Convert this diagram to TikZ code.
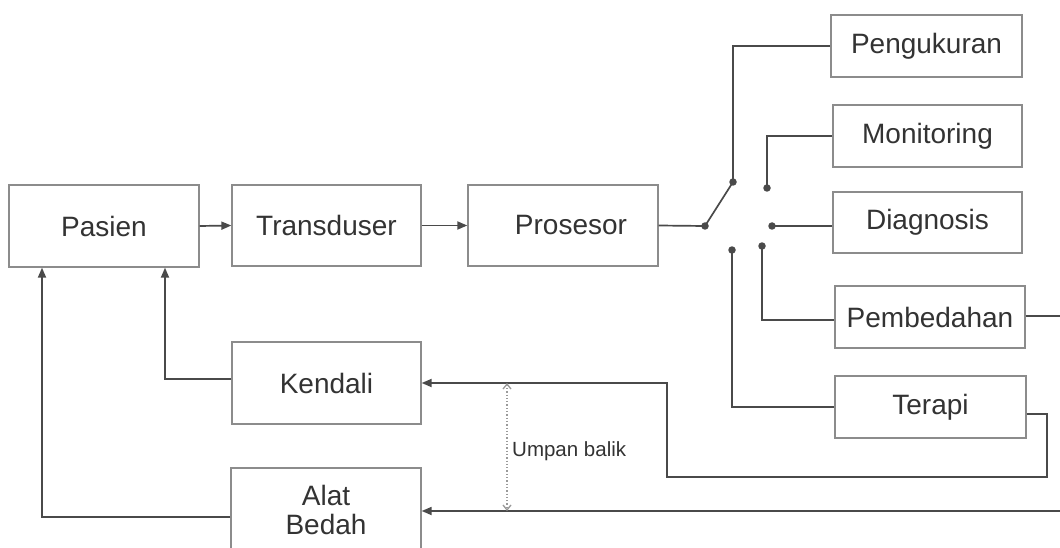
\documentclass[tikz,border=0pt]{standalone}
\usepackage{fontspec}
\setmainfont{Liberation Sans}
\usetikzlibrary{arrows.meta}
\definecolor{boxc}{HTML}{8C8C8C}
\definecolor{linec}{HTML}{4A4A4A}
\definecolor{txtc}{HTML}{333333}
\definecolor{dotc}{HTML}{9A9A9A}
\begin{document}
\begin{tikzpicture}[x=1pt,y=-1pt,
  blk/.style={draw=boxc,line width=1.3pt,inner sep=0pt,text=txtc,align=center,
    font=\fontsize{28}{29}\selectfont},
  conn/.style={draw=linec,line width=1.7pt},
  arr/.style={conn,-{Triangle[length=10pt,width=8pt]}},
  sw/.style={circle,fill=linec,inner sep=0pt,minimum size=7.5pt},
  fb/.style={draw=dotc,line width=1.3pt,dotted,{Straight Barb[length=5pt,width=8pt]}-{Straight Barb[length=5pt,width=8pt]}}]
\useasboundingbox[fill=white] (0,0) rectangle (1060,548);
% blocks
\node[blk,minimum width=190pt,minimum height=82pt] (pasien) at (104,226) {Pasien};
\node[blk,minimum width=189pt,minimum height=81pt] (trans) at (326.5,225.5) {Transduser};
\node[blk,minimum width=190pt,minimum height=81pt] (pros) at (563,225.5) {\hspace*{16pt}Prosesor};
\node[blk,minimum width=191pt,minimum height=62pt] (peng) at (926.5,46) {Pengukuran};
\node[blk,minimum width=189pt,minimum height=62pt] (mon) at (927.5,136) {Monitoring};
\node[blk,minimum width=189pt,minimum height=61pt] (diag) at (927.5,222.5) {Diagnosis};
\node[blk,minimum width=190pt,minimum height=62pt] (pemb) at (930,317) {Pembedahan};
\node[blk,minimum width=191pt,minimum height=62pt] (ter) at (930.5,407) {Terapi};
\node[blk,minimum width=189pt,minimum height=82pt] (kend) at (326.5,383) {Kendali};
\node[blk,minimum width=190pt,minimum height=84pt] (alat) at (326,510) {Alat\\Bedah};
% switch contacts
\node[sw] (s0) at (705,226) {};
\node[sw] (s1) at (733,182) {};
\node[sw] (sm) at (767,188) {};
\node[sw] (sd) at (772,226) {};
\node[sw] (sp) at (762,246) {};
\node[sw] (st) at (732,250) {};
\coordinate (e1) at (1062,316);
\coordinate (e2) at (1062,511);
\coordinate (tr) at (1047,414);
\coordinate (bl) at (667,477);
\coordinate (ub1) at (507,383);
\coordinate (ub2) at (507,511);
% forward path
\draw[arr] (pasien.east) -- (trans.west);
\draw[arr] (trans.east) -- (pros.west);
\draw[conn] (pros.east) -- (s0.center);
\draw[conn] (s0.center) -- (s1.center);
\draw[conn] (s1.center) |- (peng.west);
\draw[conn] (sm.center) |- (mon.west);
\draw[conn] (sd.center) -- (sd.center -| diag.west);
\draw[conn] (sp.center) |- ([yshift=-3pt]pemb.west);
\draw[conn] (st.center) |- (ter.west);
% outputs
\draw[conn] ([yshift=1pt]pemb.east) -- (e1);
\draw[arr] ([yshift=-7pt]ter.east) -| (tr) |- (bl) |- (kend.east);
\draw[arr] (e2) -- (e2 -| alat.east);
% feedback to patient
\draw[arr] ([yshift=4pt]kend.west) -| ([xshift=61pt]pasien.south);
\draw[arr] ([yshift=-7pt]alat.west) -| ([xshift=-62pt]pasien.south);
% umpan balik
\draw[fb] (ub1) -- (ub2);
\node[anchor=west,text=txtc,inner sep=0pt,font=\fontsize{20.5}{22}\selectfont] (ublbl) at (512,451) {Umpan balik};
\end{tikzpicture}
\end{document}
